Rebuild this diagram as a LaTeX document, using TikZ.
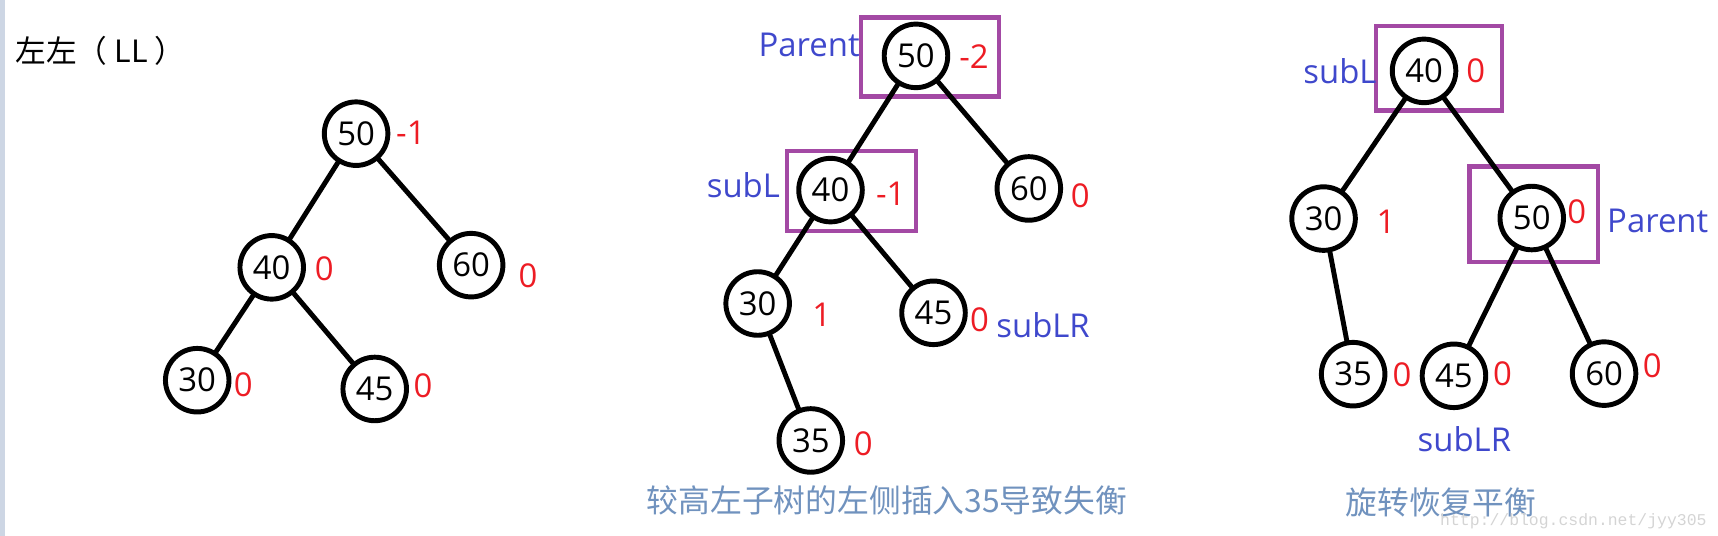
\documentclass[tikz,border=0pt]{standalone}
\usepackage{fontspec}
\setmainfont{Open Sans}
\newfontfamily\cjk{Noto Sans CJK SC}
\newfontfamily\wmfont{Liberation Mono}
\usepackage{tikz}
\usepackage{tkz-graph}
\definecolor{bfred}{RGB}{237,28,36}
\definecolor{nmblue}{RGB}{63,72,204}
\definecolor{boxpurple}{RGB}{163,73,164}
\definecolor{capblue}{RGB}{112,146,190}
\definecolor{wmgray}{RGB}{212,212,212}
\definecolor{edgestrip}{RGB}{205,214,228}

\tikzset{
  bf/.style={text=bfred, font=\fontsize{30}{30}\selectfont, inner sep=0pt},
  nm/.style={text=nmblue, font=\fontsize{30}{30}\selectfont, inner sep=0pt},
  pbox/.style={draw=boxpurple, line width=4pt, inner sep=0pt},
  captext/.style={text=capblue, font=\cjk\fontsize{29}{29}\selectfont, inner sep=0pt}
}

\begin{document}
\begin{tikzpicture}[x=1pt,y=-1pt]
        \useasboundingbox (0,0) rectangle (1568,489);
        \fill[edgestrip] (0,0) rectangle (4.5,489);
        \GraphInit[vstyle=normal]
        \tikzset{VertexStyle/.style={draw, circle, line width=4.5pt, minimum size=58pt,
            inner sep=0pt, font=\fontsize{30}{30}\selectfont}}
        \tikzset{EdgeStyle/.style={draw, line width=4.5pt}}
        % left: LL
        \node[anchor=west, inner sep=0pt, font=\cjk\fontsize{28}{28}\selectfont] (title) at (14,46) {左左（ LL ）};
        \Vertex[x=325,y=122,L=50]{a50}
        \Vertex[x=248,y=244,L=40]{a40}
        \Vertex[x=430,y=242,L=60]{a60}
        \Vertex[x=180,y=347,L=30]{a30}
        \Vertex[x=342,y=355,L=45]{a45}
        \Edge[style={-}](a50)(a40)
        \Edge[style={-}](a50)(a60)
        \Edge[style={-}](a40)(a30)
        \Edge[style={-}](a40)(a45)
        \node[bf] (ba50) at (375,121) {-1};
        \node[bf] (ba40) at (296,245) {0};
        \node[bf] (ba60) at (482,252) {0};
        \node[bf] (ba30) at (222,351) {0};
        \node[bf] (ba45) at (386,352) {0};
        % middle: after inserting 35
        \node[pbox, minimum width=126pt, minimum height=72pt] (boxb50) at (849,52) {};
        \node[pbox, minimum width=118pt, minimum height=73pt] (boxb40) at (777,174.5) {};
        \Vertex[x=836,y=51,L=50]{b50}
        \Vertex[x=758,y=173.5,L=40]{b40}
        \Vertex[x=939,y=172,L=60]{b60}
        \Vertex[x=691.5,y=277,L=30]{b30}
        \Vertex[x=852,y=285.5,L=45]{b45}
        \Vertex[x=740,y=402,L=35]{b35}
        \Edge[style={-}](b50)(b40)
        \Edge[style={-}](b50)(b60)
        \Edge[style={-}](b40)(b30)
        \Edge[style={-}](b40)(b45)
        \Edge[style={-}](b30)(b35)
        \node[bf] (bb50) at (889,52) {-2};
        \node[bf] (bb40) at (813,177) {-1};
        \node[bf] (bb60) at (986,179) {0};
        \node[bf] (bb30) at (750,287) {1};
        \node[bf] (bb45) at (894,292) {0};
        \node[bf] (bb35) at (788,405) {0};
        \node[nm] (parentb) at (738.5,41) {Parent};
        \node[nm] (sublb) at (678.5,169) {subL};
        \node[nm] (sublrb) at (952,296.5) {subLR};
        \node[captext] (capb) at (809.5,457) {较高左子树的左侧插入35导致失衡};
        % right: rotated
        \node[pbox, minimum width=115pt, minimum height=77pt] (boxc40) at (1313.3,62.4) {};
        \node[pbox, minimum width=117pt, minimum height=87pt] (boxc50) at (1399.7,195.5) {};
        \Vertex[x=1299.7,y=64.7,L=40]{c40}
        \Vertex[x=1208,y=199.5,L=30]{c30}
        \Vertex[x=1398,y=199,L=50]{c50}
        \Vertex[x=1235,y=341.5,L=35]{c35}
        \Vertex[x=1327,y=343,L=45]{c45}
        \Vertex[x=1464,y=341,L=60]{c60}
        \Edge[style={-}](c40)(c30)
        \Edge[style={-}](c40)(c50)
        \Edge[style={-}](c30)(c35)
        \Edge[style={-}](c50)(c45)
        \Edge[style={-}](c50)(c60)
        \node[bf] (bc40) at (1347,64.7) {0};
        \node[bf] (bc30) at (1265,202) {1};
        \node[bf] (bc50) at (1439,193) {0};
        \node[bf] (bc35) at (1279.5,342) {0};
        \node[bf] (bc45) at (1371.4,340.7) {0};
        \node[bf] (bc60) at (1508,334) {0};
        \node[nm] (sublc) at (1223,64.7) {subL};
        \node[nm] (parentc) at (1513,202) {Parent};
        \node[nm] (sublrc) at (1336.5,400.6) {subLR};
        \node[captext] (capc) at (1315,459) {旋转恢复平衡};
        \node[text=wmgray, inner sep=0pt, font=\wmfont\fontsize{15}{15}\selectfont] (wm) at (1436,476) {http://blog.csdn.net/jyy305};
\end{tikzpicture}
\end{document}
